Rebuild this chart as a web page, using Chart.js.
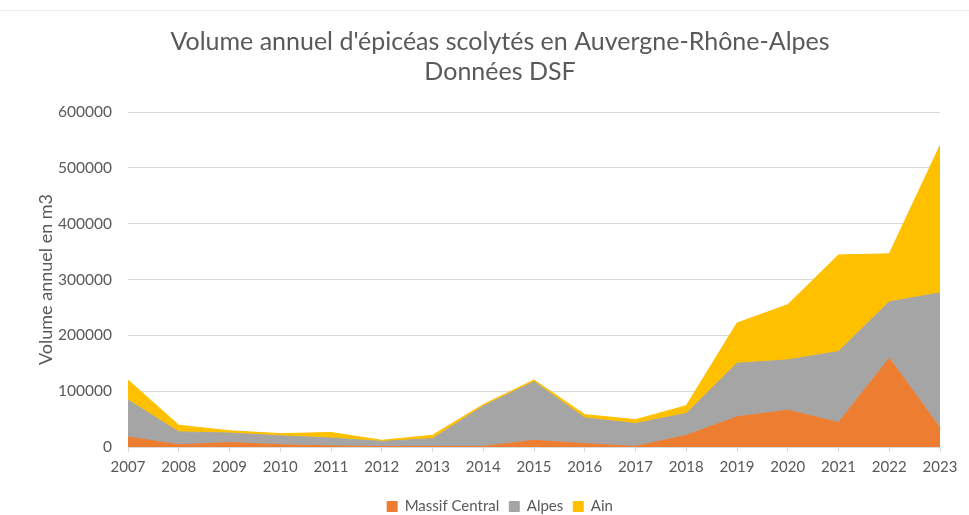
<!DOCTYPE html>
<html>
<head>
<meta charset="utf-8">
<script src="https://cdn.jsdelivr.net/npm/chart.js@4"></script>
<style>
html,body{margin:0;padding:0;background:#fff;overflow:hidden;}
#wrap{position:relative;width:969px;height:515px;overflow:hidden;}
#c{position:absolute;left:0;top:0;}
#topline{position:absolute;left:0;top:10px;width:969px;height:0;border-top:1px solid #ececec;}
</style>
</head>
<body>
<div id="wrap">
<canvas id="c" width="1000" height="524"></canvas>
<div id="topline"></div>
</div>
<script>
const years = ['2007','2008','2009','2010','2011','2012','2013','2014','2015','2016','2017','2018','2019','2020','2021','2022','2023'];
const massifCentral = [18000,4000,8000,4000,2000,1000,1000,1000,12000,6000,1000,21000,54000,66000,44000,159000,34000];
const alpes = [66000,23000,17000,16000,14000,9000,14000,72000,105000,46000,41000,39000,96000,90000,127000,101000,242000];
const ain = [36000,12000,4000,4000,10000,2000,6000,3000,3000,6000,7000,14000,72000,99000,173000,86000,264000];
const titleLines = ["Volume annuel d'épicéas scolytés en Auvergne-Rhône-Alpes", "Données DSF"];
const yAxisTitle = 'Volume annuel en m3';

const FONT = 'Lato, "Open Sans", sans-serif';
const TXT = '#595959';

new Chart(document.getElementById('c'), {
  type: 'line',
  data: {
    labels: years,
    datasets: [
      {label:'Massif Central', data: massifCentral, backgroundColor:'#ED7D31', borderColor:'#ED7D31', fill:'origin'},
      {label:'Alpes', data: alpes, backgroundColor:'#A5A5A5', borderColor:'#A5A5A5', fill:'-1'},
      {label:'Ain', data: ain, backgroundColor:'#FFC000', borderColor:'#FFC000', fill:'-1'}
    ]
  },
  options: {
    responsive: false,
    animation: false,
    elements: { point: { radius: 0 }, line: { borderWidth: 1, tension: 0 } },
    layout: { padding: 0 },
    plugins: {
      title: {
        display: true,
        text: titleLines,
        color: TXT,
        font: { family: FONT, size: 25, weight: 'normal', lineHeight: 1.2 },
        padding: { top: 27, bottom: 25 }
      },
      legend: {
        position: 'bottom',
        labels: {
          color: TXT,
          font: { family: FONT, size: 15 },
          boxWidth: 10, boxHeight: 10, padding: 10
        }
      },
      tooltip: { enabled: false }
    },
    scales: {
      x: {
        offset: false,
        grid: { display: true, drawOnChartArea: false, drawTicks: true, tickLength: 5, color: '#d9d9d9' },
        border: { color: '#d9d9d9' },
        ticks: { color: TXT, font: { family: FONT, size: 15 }, maxRotation: 0, autoSkip: false, padding: 6 },
        afterFit: s => { s.height = 42; }
      },
      y: {
        stacked: true,
        min: 0, max: 600000,
        ticks: { stepSize: 100000, color: TXT, font: { family: FONT, size: 15.5 }, padding: 16, callback: v => String(v) },
        grid: { color: '#d9d9d9', drawTicks: false },
        border: { display: false },
        title: { display: true, text: yAxisTitle, color: TXT, font: { family: FONT, size: 18 }, padding: { top: 35, bottom: 0 } },
        afterFit: s => { s.width = 128; }
      },
      yPad: {
        position: 'right',
        display: true,
        grid: { display: false },
        border: { display: false },
        ticks: { display: false },
        afterFit: s => { s.width = 60; }
      }
    }
  }
});
</script>
</body>
</html>
